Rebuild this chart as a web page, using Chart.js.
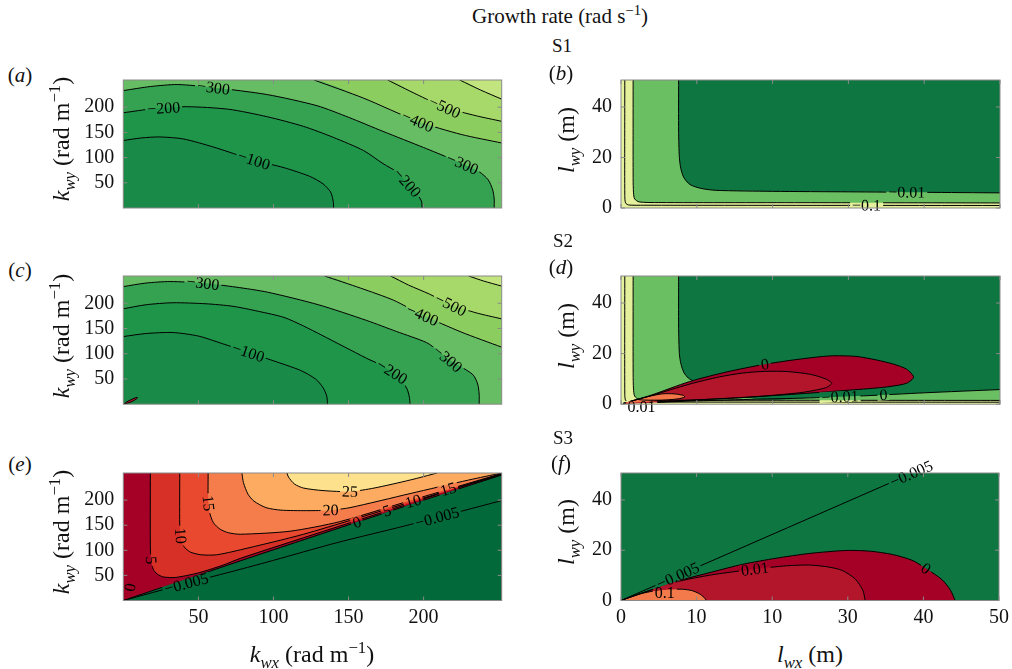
<!DOCTYPE html>
<html lang="en">
<head>
<meta charset="UTF-8">
<title>Growth rate (rad s-1)</title>
<script src="https://cdn.jsdelivr.net/npm/chart.js"></script>
<style>
  body { margin: 0; background: #fff; }
  #fig { position: relative; width: 1012px; height: 669px; overflow: hidden; font-family: 'Liberation Serif', 'Times New Roman', serif; color: #111; }
  canvas { position: absolute; }
  .t { position: absolute; white-space: nowrap; transform: translate(-50%, -50%); line-height: 1; z-index: 2; }
  .rot { transform: translate(-50%, -50%) rotate(-90deg); }
  sub, sup { font-size: 70%; line-height: 0; }
</style>
</head>
<body>
<div id="fig">
  <div class="t" style="left:560px;top:16px;font-size:21px">Growth rate (rad s<sup>&minus;1</sup>)</div>
  <div class="t" style="left:562px;top:45px;font-size:19px">S1</div>
  <div class="t" style="left:563px;top:240px;font-size:19px">S2</div>
  <div class="t" style="left:563px;top:437px;font-size:19px">S3</div>

  <div class="t" style="left:20px;top:75px;font-size:21px">(<i>a</i>)</div>
  <div class="t" style="left:561px;top:73px;font-size:21px">(<i>b</i>)</div>
  <div class="t" style="left:20px;top:270px;font-size:21px">(<i>c</i>)</div>
  <div class="t" style="left:561px;top:267px;font-size:21px">(<i>d</i>)</div>
  <div class="t" style="left:20px;top:464px;font-size:21px">(<i>e</i>)</div>
  <div class="t" style="left:561px;top:463px;font-size:21px">(<i>f</i>)</div>

  <div class="t rot" style="left:61px;top:139px;font-size:24px"><i>k</i><sub><i>wy</i></sub> (rad m<sup>&minus;1</sup>)</div>
  <div class="t rot" style="left:61px;top:336px;font-size:24px"><i>k</i><sub><i>wy</i></sub> (rad m<sup>&minus;1</sup>)</div>
  <div class="t rot" style="left:61px;top:532px;font-size:24px"><i>k</i><sub><i>wy</i></sub> (rad m<sup>&minus;1</sup>)</div>
  <div class="t rot" style="left:566px;top:140px;font-size:24px"><i>l</i><sub><i>wy</i></sub> (m)</div>
  <div class="t rot" style="left:566px;top:336px;font-size:24px"><i>l</i><sub><i>wy</i></sub> (m)</div>
  <div class="t rot" style="left:566px;top:532px;font-size:24px"><i>l</i><sub><i>wy</i></sub> (m)</div>

  <div class="t" style="left:312px;top:654px;font-size:24px"><i>k</i><sub><i>wx</i></sub> (rad m<sup>&minus;1</sup>)</div>
  <div class="t" style="left:810px;top:654px;font-size:24px"><i>l</i><sub><i>wx</i></sub> (m)</div>
</div>

<script>
// axis ranges and ticks
const kxMax = 252, kyMax = 254;
const lxMax = 50, lyMax = 50.7;
const kTicks = [50, 100, 150, 200];
const lxTicks = [0, 10, 20, 30, 40, 50];
const lxTickLabels = ['0', '10', '10', '30', '40', '50'];
const lyTicks = [0, 20, 40];

// (a) S1, wavenumber space: contours -100 ... -600
const a100 = [[0,134],[12,139],[24,141],[40,137],[60,121],[87,95],[107,80],[124,63],[133,48],[138,32],[139.5,18],[140,8],[140,0]];
const a200 = [[0,189],[20,197],[42,201],[70,196],[96,181],[120,162],[140,140],[160,114],[173,88],[183,70],[189,50],[195,30],[198.5,14],[199,0]];
const a300 = [[0,233],[18,241],[36,245],[60,239],[96,225],[129,203],[150,180],[173,152],[200,120],[218,98],[228,85],[237,72],[243,56],[246,36],[247,18],[247,0]];
const a400 = [[127,254],[160,218],[196,172],[225,146],[252,129]];
const a500 = [[176,254],[195,226],[214,200],[235,183],[252,172]];
const a600 = [[224,254],[238,234],[252,216]];

// (b) S1, length space: contours -1, -0.1, -0.01
const b1 = [[0.5,50.7],[0.5,5],[0.6,2],[1,1.2],[3,1.1],[50,1.0]];
const b01 = [[1.6,50.7],[1.6,12],[1.65,6],[1.8,3.6],[2.4,2.4],[5,2.15],[25,2.1],[50,2.0]];
const b001 = [[7.6,50.7],[7.6,30],[7.7,20],[7.9,15.5],[8.3,12],[9.1,9.3],[10.5,7.8],[12.5,7.0],[20,6.6],[30,6.4],[40,6.2],[50,6.0]];

// (c) S2, wavenumber space
const c100 = [[0,134],[15,140],[33,142],[50,135],[66,120],[83,103],[100,86],[118,67],[128,50],[133,33],[135.5,16],[136,0]];
const c200 = [[0,189],[15,197],[33,201],[55,199],[73,194],[90,184],[107,172],[120,155],[132,137],[147,114],[162,91],[172,77],[179,64],[185,48],[189,30],[190.5,14],[191,0]];
const c300 = [[0,233],[15,240],[31,243],[53,240],[75,232],[96,222],[130,197],[162,166],[182,144],[202,122],[210,105],[216,90],[225,74],[233,58],[236,40],[237,20],[237,0]];
const c400 = [[134,254],[158,230],[180,206],[199,177],[225,143],[252,113]];
const c500 = [[178,254],[190,236],[204,218],[218,197],[235,181],[252,169]];
const c600 = [[230,254],[240,244],[252,234]];
const cEll = [[0.5,0.5],[2,4],[4.5,8],[7,11.5],[9,13.5],[9.5,12.5],[8,9],[5.5,5],[3,2],[0.5,0.5]];

// (d) S2, length space
const d1 = [[0.5,50.7],[0.5,4],[0.6,1.5],[1,0.9],[3,0.85],[50,0.8]];
const d01 = [[1.6,50.7],[1.6,12],[1.65,6],[1.8,3.2],[2.4,1.8],[5,1.6],[25,1.55],[50,1.5]];
const d001Upper = [[7.6,50.7],[7.6,30],[7.7,20],[7.9,16],[8.3,12.5],[8.9,10.3],[9.5,9.2]];
const d001Lower = [[2,0.5],[10,1.3],[18,2.0],[24,2.4],[32,3.3],[40,4.5],[50,5.8]];
const dOuter = [[0.3,0.3],[4,3.6],[9,8.9],[14,12.8],[18.8,15.7],[23,17.6],[27.6,19.1],[31,18.9],[33.7,17.5],[36,15.8],[37.7,13.8],[38.6,10.7],[37.7,8.3],[35.5,7],[33.7,6.4],[29,5.3],[25,4.4],[20,3.4],[15,2.5],[10,1.7],[5,0.9],[2,0.4],[0.3,0.3]];
const dInner = [[0.3,0.3],[4,3.4],[9,7.9],[13,10.8],[16,12.3],[19,13],[22,12.9],[25,11.8],[27,10],[27.8,8.3],[27,6.5],[24,4.7],[20,3.5],[16,2.6],[12,2],[8,1.4],[4,0.7],[0.3,0.3]];
const dCore = [[0.3,0.3],[2,1.8],[4,3.3],[5.5,4.1],[7,4.1],[8.2,3.5],[8.4,2.8],[7.5,2.1],[5,1.4],[2,0.7],[0.3,0.3]];

// (e) S3, wavenumber space: contours 0 ... 25 and -0.005
const e0 = [[0,0],[78,79],[100,101],[191,191],[252,250]];
const e5 = [[18,254],[18,110],[18.5,80],[20,62],[22.5,53],[26.5,47],[35,46],[50,55],[66,70],[78,84],[120,125],[176,179],[220,222],[252,251.2]];
const e10 = [[37.6,254],[37.6,150],[38.5,120],[41,105],[45,96],[52,91],[62,91],[78,101],[120,132],[191,196],[252,252]];
const e15 = [[56.5,254],[56.5,200],[57.5,175],[60,155],[64.5,142],[70,135],[77.8,132],[111,138],[144,157],[191,199],[252,253]];
const e20 = [[79,254],[80,235],[83,212],[87,198],[95,185],[105,180],[122,179],[138,180],[151,185],[191,213],[230,240],[252,254]];
const e25 = [[109,254],[110,246],[114,232],[120,224],[133,219],[151,217],[167,224],[191,240],[209,254]];
const eNeg = [[0,0],[42,34],[77.8,62],[100,80],[142,115],[188,149],[252,199]];

// (f) S3, length space
const fNeg = [[0,0],[38.6,50.7]];
const fOuter = [[0,0],[3.5,3.7],[7.3,7.6],[12,11.3],[16.1,14.4],[20.5,16.8],[24.9,18.7],[29.8,19.9],[33,19.6],[35.9,18.3],[38.5,16],[40.3,12.8],[42.5,8.2],[43.6,4],[44.2,0]];
const fInner = [[0,0],[3.5,3.7],[7.3,7.4],[12,10.2],[17.7,12.5],[21.9,13.8],[24.9,14.1],[27.5,13.3],[29.3,11.9],[31,8.5],[32,4],[32.3,0]];
const fCore = [[0,0],[2,2.2],[4,3.6],[6,4.3],[8,4.5],[9.3,4],[10.3,2.8],[11,1.2],[11.3,0]];

const TENSION = 0.25;
Chart.defaults.font.family = "'Liberation Serif', 'Times New Roman', serif";

const pts = arr => arr.map(p => ({ x: p[0], y: p[1] }));
// region below a contour that starts on the top edge: begin at the top-left corner
const withTopCorner = (arr, top) => (arr[0][1] >= top - 0.01 && arr[0][0] > 0) ? [[0, top]].concat(arr) : arr;

function labelGeom(chart, L) {
  const xs = chart.scales.x, ys = chart.scales.y;
  const tx = xs.getPixelForValue(L.x), ty = ys.getPixelForValue(L.y);
  let px = tx, py = ty, ang = L.r || 0;
  if (L.c) {
    let best = Infinity;
    for (let i = 0; i + 1 < L.c.length; i++) {
      const x1 = xs.getPixelForValue(L.c[i][0]), y1 = ys.getPixelForValue(L.c[i][1]);
      const x2 = xs.getPixelForValue(L.c[i + 1][0]), y2 = ys.getPixelForValue(L.c[i + 1][1]);
      const dx = x2 - x1, dy = y2 - y1, l2 = dx * dx + dy * dy;
      if (!l2) continue;
      const u = Math.max(0, Math.min(1, ((tx - x1) * dx + (ty - y1) * dy) / l2));
      const qx = x1 + u * dx, qy = y1 + u * dy, d = (qx - tx) ** 2 + (qy - ty) ** 2;
      if (d < best) { best = d; px = qx; py = qy; ang = Math.atan2(dy, dx) * 180 / Math.PI; }
    }
    if (ang > 90) ang -= 180; else if (ang <= -90) ang += 180;
  }
  return { px, py, a: ang * Math.PI / 180 };
}

const LABEL_FONT = "16px 'Liberation Serif', 'Times New Roman', serif";

const deco = {
  id: 'deco',
  beforeDatasetsDraw(chart, args, opts) {
    const a = chart.chartArea, ctx = chart.ctx;
    ctx.save();
    ctx.fillStyle = opts.bg;
    ctx.fillRect(a.left, a.top, a.right - a.left, a.bottom - a.top);
    ctx.font = LABEL_FONT;
    chart.$labels = (opts.labels || []).map(L => {
      const g = labelGeom(chart, L);
      g.t = L.t; g.w = ctx.measureText(L.t).width + 4; g.h = 11;
      return g;
    });
    ctx.restore();
  },
  beforeDatasetDraw(chart, args) {
    const ds = chart.data.datasets[args.index];
    if (!ds.contour) return;
    // leave a gap in the contour lines under each label
    const ctx = chart.ctx;
    ctx.save();
    ctx.beginPath();
    ctx.rect(0, 0, chart.width, chart.height);
    for (const g of chart.$labels) {
      const c = Math.cos(g.a), s = Math.sin(g.a), hw = g.w / 2, hh = g.h / 2;
      const corners = [[-hw, -hh], [hw, -hh], [hw, hh], [-hw, hh]];
      corners.forEach((p, i) => {
        const x = g.px + p[0] * c - p[1] * s, y = g.py + p[0] * s + p[1] * c;
        if (i === 0) ctx.moveTo(x, y); else ctx.lineTo(x, y);
      });
      ctx.closePath();
    }
    ctx.clip('evenodd');
  },
  afterDatasetDraw(chart, args) {
    if (chart.data.datasets[args.index].contour) chart.ctx.restore();
  },
  afterDatasetsDraw(chart) {
    const a = chart.chartArea, ctx = chart.ctx;
    ctx.save();
    ctx.font = LABEL_FONT;
    ctx.fillStyle = '#000';
    ctx.textAlign = 'center';
    ctx.textBaseline = 'middle';
    for (const g of chart.$labels) {
      ctx.save();
      ctx.translate(g.px, g.py);
      ctx.rotate(g.a);
      ctx.fillText(g.t, 0, 1);
      ctx.restore();
    }
    ctx.strokeStyle = '#8a8a8a';
    ctx.lineWidth = 1;
    ctx.beginPath();
    chart.scales.x.ticks.forEach(t => {
      const x = chart.scales.x.getPixelForValue(t.value);
      ctx.moveTo(x, a.top); ctx.lineTo(x, a.top + 4);
      ctx.moveTo(x, a.bottom); ctx.lineTo(x, a.bottom - 4);
    });
    chart.scales.y.ticks.forEach(t => {
      const y = chart.scales.y.getPixelForValue(t.value);
      ctx.moveTo(a.left, y); ctx.lineTo(a.left + 4, y);
      ctx.moveTo(a.right, y); ctx.lineTo(a.right - 4, y);
    });
    ctx.stroke();
    ctx.strokeRect(a.left, a.top, a.right - a.left, a.bottom - a.top);
    ctx.restore();
  }
};

function makePanel(p) {
  const fig = document.getElementById('fig');
  const [L, T0, R, B] = p.box;
  const cl = Math.floor(L) - 60, ct = Math.floor(T0) - 12;
  const W = Math.ceil(R) + 14 - cl, H = Math.ceil(B) + 40 - ct;
  const cv = document.createElement('canvas');
  cv.width = W; cv.height = H;
  cv.style.left = cl + 'px'; cv.style.top = ct + 'px';
  fig.insertBefore(cv, fig.firstChild);
  const yW = L - cl, padR = W - (R - cl), padT = T0 - ct, xH = H - (B - ct);

  const sets = [];
  p.fills.forEach(f => sets.push({
    data: pts(f.mode === 'under' ? withTopCorner(f.c, p.yMax) : f.c),
    fill: f.mode === 'under' ? 'origin' : f.mode,
    backgroundColor: f.col, borderColor: 'rgba(0,0,0,0)', borderWidth: 0,
    pointRadius: 0, tension: TENSION
  }));
  p.lines.forEach(c => sets.push({
    data: pts(c), fill: false, borderColor: '#000', borderWidth: 1,
    pointRadius: 0, tension: TENSION, contour: true
  }));
  // first listed is painted first
  sets.forEach((s, i) => { s.order = sets.length - i; });

  const tickFont = { family: "'Liberation Serif', 'Times New Roman', serif", size: 20 };
  new Chart(cv, {
    type: 'line',
    data: { datasets: sets },
    options: {
      responsive: false, animation: false, events: [],
      layout: { padding: { left: 0, right: padR, top: padT, bottom: 0 } },
      plugins: { legend: { display: false }, tooltip: { enabled: false },
                 deco: { bg: p.bg, labels: p.labels } },
      scales: {
        x: {
          type: 'linear', min: 0, max: p.xMax,
          afterFit: s => { s.height = xH; },
          afterBuildTicks: s => { s.ticks = p.xTicks.map(v => ({ value: v })); },
          ticks: { display: p.showX, padding: 5, font: tickFont, color: '#111', maxRotation: 0, autoSkip: false,
                   callback: v => p.xText ? p.xText[p.xTicks.indexOf(v)] : String(v) },
          grid: { display: false, drawTicks: false }, border: { display: false }
        },
        y: {
          type: 'linear', min: 0, max: p.yMax,
          afterFit: s => { s.width = yW; },
          afterBuildTicks: s => { s.ticks = p.yTicks.map(v => ({ value: v })); },
          ticks: { padding: 9, font: tickFont, color: '#111', autoSkip: false, callback: v => String(v) },
          grid: { display: false, drawTicks: false }, border: { display: false }
        }
      }
    },
    plugins: [deco]
  });
}

const kPanel = { xMax: kxMax, yMax: kyMax, xTicks: kTicks, yTicks: kTicks };
const lPanel = { xMax: lxMax, yMax: lyMax, xTicks: lxTicks, xText: lxTickLabels, yTicks: lyTicks };
const greensK = ['#a6d96a', '#8ccd5f', '#67bd63', '#35a252', '#1e9548', '#1a8a48'];
const PALE = '#e4f09c', LIGHT = '#6abf62', DARK = '#0e7640';

makePanel(Object.assign({}, kPanel, {
  box: [123.3, 71, 501.7, 208], showX: false, bg: '#c3e57f',
  fills: [a600, a500, a400, a300, a200, a100].map((c, i) => ({ c, mode: 'under', col: greensK[i] })),
  lines: [a100, a200, a300, a400, a500, a600],
  labels: [
    { c: a300, x: 60, y: 237, t: '\u2212300' }, { c: a200, x: 27, y: 191, t: '\u2212200' },
    { c: a100, x: 87, y: 95, t: '\u2212100' }, { c: a200, x: 189, y: 50, t: '\u2212200' },
    { c: a300, x: 226, y: 88, t: '\u2212300' }, { c: a400, x: 196, y: 172, t: '\u2212400' },
    { c: a500, x: 214, y: 200, t: '\u2212500' }
  ]
}));

makePanel(Object.assign({}, lPanel, {
  box: [621, 71, 1000, 208], showX: false, bg: PALE,
  fills: [{ c: b01, mode: 'end', col: LIGHT }, { c: b001, mode: 'end', col: DARK }],
  lines: [b1, b01, b001],
  labels: [{ c: b001, x: 37.7, y: 6.2, t: '\u22120.01' }, { c: b1, x: 32.4, y: 1.1, t: '\u22120.1' }]
}));

makePanel(Object.assign({}, kPanel, {
  box: [123.3, 267.3, 501.7, 404.2], showX: false, bg: '#c3e57f',
  fills: [c600, c500, c400, c300, c200, c100].map((c, i) => ({ c, mode: 'under', col: greensK[i] }))
    .concat([{ c: cEll, mode: 'shape', col: '#b3152b' }]),
  lines: [c100, c200, c300, c400, c500, c600, cEll],
  labels: [
    { c: c300, x: 53, y: 239, t: '\u2212300' }, { c: c100, x: 83, y: 101, t: '\u2212100' },
    { c: c200, x: 179, y: 64, t: '\u2212200' }, { c: c300, x: 216, y: 90, t: '\u2212300' },
    { c: c400, x: 199, y: 175, t: '\u2212400' }, { c: c500, x: 218, y: 197, t: '\u2212500' }
  ]
}));

makePanel(Object.assign({}, lPanel, {
  box: [621, 267.3, 1000, 404.2], showX: false, bg: PALE,
  fills: [
    { c: d01, mode: 'end', col: LIGHT },
    { c: d001Upper.concat(d001Lower.filter(p => p[0] > 12)), mode: 'end', col: DARK },
    { c: dOuter, mode: 'shape', col: '#a50026' },
    { c: dInner, mode: 'shape', col: '#b3152b' },
    { c: dCore, mode: 'shape', col: '#f37548' }
  ],
  lines: [d1, d01, d001Upper, d001Lower, dOuter, dInner, dCore],
  labels: [
    { c: dOuter, x: 19, y: 15.7, t: '0' }, { c: d001Lower, x: 34.6, y: 4.9, t: '0' },
    { c: d001Lower, x: 28.9, y: 2.1, t: '\u22120.01' }, { x: 2.7, y: -0.9, t: '0.01' }
  ]
}));

makePanel(Object.assign({}, kPanel, {
  box: [123.3, 464.3, 501.7, 600.5], showX: true, bg: '#a50026',
  fills: [
    { c: e5, mode: 'end', col: '#d73027' }, { c: e10, mode: 'end', col: '#e8492f' },
    { c: e15, mode: 'end', col: '#f57c4b' }, { c: e20, mode: 'end', col: '#fcab60' },
    { c: e25, mode: 'end', col: '#fee18c' }, { c: e0, mode: 'origin', col: '#02693a' }
  ],
  lines: [e0, e5, e10, e15, e20, e25, eNeg],
  labels: [
    { x: 4.5, y: 26, t: '0', r: -80 }, { c: e5, x: 16.7, y: 79, t: '5' },
    { c: e10, x: 37.8, y: 129, t: '10' }, { c: e15, x: 57.3, y: 194, t: '15' },
    { c: e20, x: 138, y: 180, t: '20' }, { c: e25, x: 151, y: 217, t: '25' },
    { c: e0, x: 155.6, y: 156, t: '0' }, { c: e5, x: 175.6, y: 179, t: '5' },
    { c: e10, x: 193, y: 198, t: '10' }, { c: e15, x: 216, y: 226, t: '15' },
    { c: eNeg, x: 209, y: 166, t: '\u22120.005' }, { c: eNeg, x: 42, y: 34, t: '\u22120.005' }
  ]
}));

makePanel(Object.assign({}, lPanel, {
  box: [621, 464.3, 1000, 600.5], showX: true, bg: DARK,
  fills: [
    { c: fOuter, mode: 'origin', col: '#a50026' },
    { c: fInner, mode: 'origin', col: '#b3152b' },
    { c: fCore, mode: 'origin', col: '#f37a4a' }
  ],
  lines: [fNeg, fOuter, fInner, fCore],
  labels: [
    { c: fNeg, x: 38.6, y: 49, t: '\u22120.005' }, { c: fOuter, x: 40.3, y: 12.5, t: '0' },
    { c: fInner, x: 17.7, y: 12.5, t: '0.01' }, { c: fNeg, x: 7.6, y: 9.4, t: '\u22120.005' },
    { x: 5.8, y: 2.9, t: '0.1' }
  ]
}));
</script>
</body>
</html>
